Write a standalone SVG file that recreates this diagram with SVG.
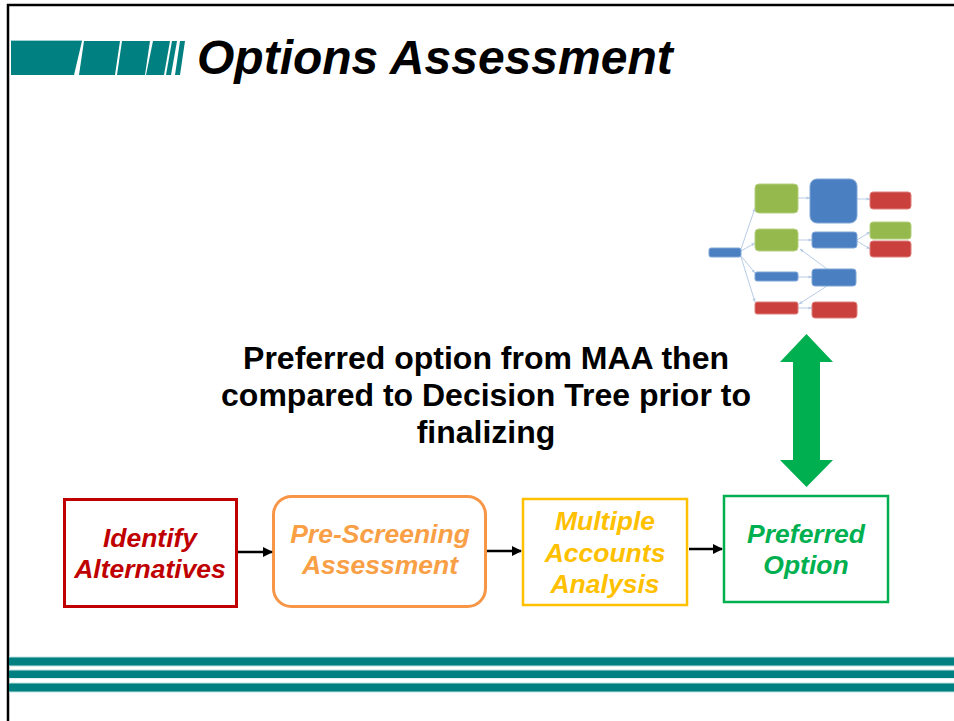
<svg xmlns="http://www.w3.org/2000/svg" width="954" height="721" viewBox="0 0 954 721">
<defs>
<style>
.title{font-family:"Liberation Sans",Arial,sans-serif;font-weight:bold;font-style:italic;font-size:48px;fill:#000}
.note{font-family:"Liberation Sans",Arial,sans-serif;font-weight:bold;font-size:32px;fill:#000;text-anchor:middle}
.lbl{font-family:"Liberation Sans",Arial,sans-serif;font-weight:bold;font-style:italic;font-size:26.5px;text-anchor:middle}
.teal{fill:#008080}
.dt{stroke:#b9cce6;stroke-width:1;fill:none}
.g{fill:#95b94d;stroke:#b4cf7e;stroke-width:1}
.b{fill:#4a7fc2;stroke:#7fa6d6;stroke-width:1}
.r{fill:#c9403d;stroke:#de7f7c;stroke-width:1}
.conn{stroke:#000;stroke-width:2.5;fill:none;marker-end:url(#ah)}
</style>
<marker id="ah" viewBox="0 0 10 10" refX="9" refY="5" markerWidth="4" markerHeight="4" orient="auto" markerUnits="strokeWidth">
<path d="M0,0 L10,5 L0,10 z" fill="#000"/>
</marker>
<marker id="sa" viewBox="0 0 10 10" refX="9" refY="5" markerWidth="4" markerHeight="4" orient="auto" markerUnits="strokeWidth">
<path d="M0,1 L10,5 L0,9 z" fill="#b9cce6"/>
</marker>
</defs>
<rect x="0" y="0" width="954" height="721" fill="#fff"/>
<!-- slide border -->
<path d="M8,721 L8,5 L954,5" fill="none" stroke="#000" stroke-width="2.5"/>

<!-- title bar -->
<g id="title-bar">
<line x1="11" y1="40.5" x2="82" y2="40.5" stroke="#9fd3d3" stroke-width="1"/>
<polygon class="teal" points="11,41 82,41 74,75 11,75"/>
<polygon class="teal" points="84,41 120,41 115,75 79,75"/>
<polygon class="teal" points="122,41 150,41 145,75 117,75"/>
<polygon class="teal" points="153,41 170,41 164,75 146,75"/>
<polygon class="teal" points="172,41 177,41 171,75 166,75"/>
<polygon class="teal" points="180,41 185,41 180,75 175,75"/>
<text class="title" x="197" y="74">Options Assessment</text>
</g>

<!-- decision tree picture -->
<g id="decision-tree">
<g id="dt-connectors">
<path class="dt" d="M741,249 L755,208" marker-end="url(#sa)"/>
<path class="dt" d="M741,251 L755,243" marker-end="url(#sa)"/>
<path class="dt" d="M741,256 L755,273" marker-end="url(#sa)"/>
<path class="dt" d="M741,257 L755,302" marker-end="url(#sa)"/>
<path class="dt" d="M798,198 L810,198" marker-end="url(#sa)"/>
<path class="dt" d="M857,199 L870,199" marker-end="url(#sa)"/>
<path class="dt" d="M798,240 L812,240" marker-end="url(#sa)"/>
<path class="dt" d="M857,240 L870,232" marker-end="url(#sa)"/>
<path class="dt" d="M857,241 L870,249" marker-end="url(#sa)"/>
<path class="dt" d="M798,277 L812,277" marker-end="url(#sa)"/>
<path class="dt" d="M798,308 L812,308" marker-end="url(#sa)"/>
<path class="dt" d="M827,269 L800,249" marker-end="url(#sa)"/>
<path class="dt" d="M827,286 L799,304" marker-end="url(#sa)"/>
</g>
<g id="dt-root"><rect class="b" x="709" y="248" width="32" height="9" rx="2"/></g>
<g id="dt-g1"><rect class="g" x="755" y="184" width="43" height="29" rx="4"/></g>
<g id="dt-g2"><rect class="g" x="755" y="229" width="43" height="22" rx="4"/></g>
<g id="dt-b3"><rect class="b" x="755" y="272" width="43" height="9" rx="2"/></g>
<g id="dt-r4"><rect class="r" x="755" y="302" width="43" height="12" rx="2"/></g>
<g id="dt-bigblue"><rect class="b" x="810" y="179" width="47" height="44" rx="7"/></g>
<g id="dt-midblue"><rect class="b" x="812" y="232" width="45" height="16" rx="3"/></g>
<g id="dt-blueright"><rect class="b" x="812" y="269" width="44" height="17" rx="3"/></g>
<g id="dt-redbr"><rect class="r" x="812" y="302" width="45" height="16" rx="3"/></g>
<g id="dt-redtr"><rect class="r" x="870" y="192" width="41" height="17" rx="3"/></g>
<g id="dt-greenr"><rect class="g" x="870" y="222" width="41" height="17" rx="3"/></g>
<g id="dt-redr"><rect class="r" x="870" y="241" width="41" height="16" rx="3"/></g>
</g>

<!-- note text -->
<g id="note">
<text class="note" x="486" y="369">Preferred option from MAA then</text>
<text class="note" x="486" y="406">compared to Decision Tree prior to</text>
<text class="note" x="486" y="443">finalizing</text>
</g>

<!-- green double arrow -->
<g id="double-arrow">
<polygon fill="#00b050" points="806.5,334 833,362 820,362 820,460 833,460 806.5,487 780,460 793,460 793,362 780,362"/>
</g>

<!-- flow nodes -->
<g id="identify-alternatives">
<rect x="64.5" y="499.5" width="172" height="107" fill="#fff" stroke="#c00000" stroke-width="3"/>
<text class="lbl" x="150" y="547" fill="#c00000">Identify</text>
<text class="lbl" x="150" y="578" fill="#c00000">Alternatives</text>
</g>
<g id="pre-screening">
<rect x="273.5" y="496.5" width="212" height="110" rx="18" fill="#fff" stroke="#f79646" stroke-width="3"/>
<text class="lbl" x="380" y="543" fill="#f9a047">Pre-Screening</text>
<text class="lbl" x="380" y="574" fill="#f9a047">Assessment</text>
</g>
<g id="maa">
<rect x="523" y="499" width="164" height="106" fill="#fff" stroke="#ffc000" stroke-width="2.5"/>
<text class="lbl" x="605" y="530" fill="#ffc000">Multiple</text>
<text class="lbl" x="605" y="562" fill="#ffc000">Accounts</text>
<text class="lbl" x="605" y="593" fill="#ffc000">Analysis</text>
</g>
<g id="preferred-option">
<rect x="724" y="496" width="164" height="106" fill="#fff" stroke="#00b050" stroke-width="2.5"/>
<text class="lbl" x="806" y="543" fill="#00b050">Preferred</text>
<text class="lbl" x="806" y="574" fill="#00b050">Option</text>
</g>

<!-- connectors -->
<g id="connectors">
<line class="conn" x1="238" y1="552" x2="272" y2="552"/>
<line class="conn" x1="487" y1="551" x2="521" y2="551"/>
<line class="conn" x1="689" y1="549" x2="722" y2="549"/>
</g>

<!-- bottom bars -->
<g id="bottom-bars">
<rect x="9" y="656.5" width="945" height="10" fill="#bfe3e3"/>
<rect x="9" y="657.5" width="945" height="8" class="teal"/>
<rect x="9" y="669.5" width="945" height="9" fill="#bfe3e3"/>
<rect x="9" y="670.5" width="945" height="7.5" class="teal"/>
<rect x="9" y="682.5" width="945" height="10" fill="#bfe3e3"/>
<rect x="9" y="683.5" width="945" height="8" class="teal"/>
</g>
</svg>
